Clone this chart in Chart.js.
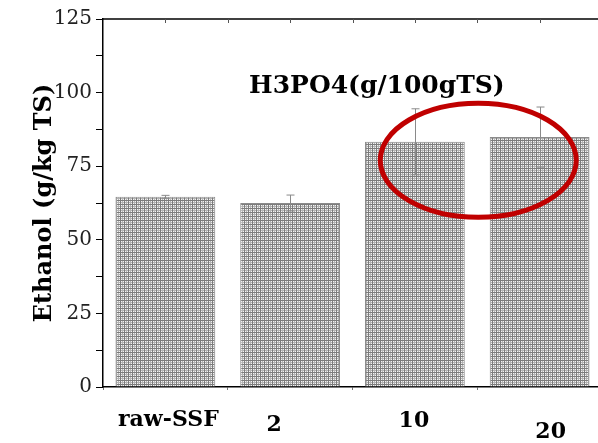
<!DOCTYPE html>
<html>
<head>
<meta charset="utf-8">
<script src="https://cdn.jsdelivr.net/npm/chart.js@4.4.1/dist/chart.umd.min.js"></script>
<style>
  html, body { margin: 0; padding: 0; background: #fff; overflow: hidden; }
  #wrap { position: relative; width: 602px; height: 443px; }
</style>
</head>
<body>
<div id="wrap"><canvas id="chart" width="602" height="443"></canvas></div>
<script>
// datos
const categories = ['raw-SSF', '2', '10', '20'];
const ethanol = [64.6, 62.5, 83.3, 84.9];
const errors = [0.5, 2.7, 11.2, 10.2];
const yTicks = [0, 25, 50, 75, 100, 125];
const chartTitle = 'H3PO4(g/100gTS)';
const yTitle = 'Ethanol (g/kg TS)';

// desplazamiento de las etiquetas del eje x (px)
const labelShift = [[3, 0], [-16, 5], [-1, 1], [11, 12]];

const serif = '"DejaVu Serif", "Liberation Serif", serif';

// patron cuadriculado para las barras
function gridPattern() {
  const c = document.createElement('canvas');
  c.width = 4; c.height = 4;
  const g = c.getContext('2d');
  g.fillStyle = '#f4f4f4';
  g.fillRect(0, 0, 4, 4);
  g.fillStyle = '#b4b4b4';
  g.fillRect(2, 0, 1, 4);
  g.fillRect(0, 2, 4, 1);
  g.fillStyle = '#7c7c7c';
  g.fillRect(0, 0, 4, 1);
  g.fillRect(0, 0, 1, 4);
  return c.getContext('2d').createPattern(c, 'repeat');
}

const extras = {
  id: 'extras',
  afterDatasetsDraw(chart) {
    const { ctx, chartArea: a, scales: { x, y } } = chart;
    ctx.save();
    // barras de error
    ctx.strokeStyle = '#8a8a8a';
    ctx.lineWidth = 1;
    ethanol.forEach((v, i) => {
      const px = Math.round(x.getPixelForValue(i)) + 0.5;
      const top = y.getPixelForValue(v + errors[i]);
      const bot = y.getPixelForValue(v - errors[i]);
      ctx.beginPath();
      ctx.moveTo(px, top); ctx.lineTo(px, bot);
      ctx.moveTo(px - 4, top); ctx.lineTo(px + 4, top);
      ctx.moveTo(px - 4, bot); ctx.lineTo(px + 4, bot);
      ctx.stroke();
    });
    // eje superior
    ctx.strokeStyle = '#000';
    ctx.lineWidth = 1.5;
    ctx.beginPath();
    ctx.moveTo(a.left, a.top); ctx.lineTo(a.right, a.top);
    ctx.stroke();
    ctx.lineWidth = 1;
    ctx.strokeStyle = '#555';
    for (let k = 1; k < categories.length * 2; k++) {
      const px = Math.round(x.getPixelForValue(k / 2 - 0.5)) + 0.5;
      ctx.beginPath();
      ctx.moveTo(px, a.top); ctx.lineTo(px, a.top + 4);
      ctx.stroke();
    }
    // titulo dentro del grafico
    ctx.fillStyle = '#000';
    ctx.font = 'bold 25px ' + serif;
    ctx.textAlign = 'center';
    ctx.textBaseline = 'middle';
    ctx.fillText(chartTitle, (x.getPixelForValue(1) + x.getPixelForValue(3)) / 2 - 38, y.getPixelForValue(100) - 6);
    // etiquetas del eje x
    ctx.font = 'bold 22px ' + serif;
    categories.forEach((c, i) => {
      const px = x.getPixelForValue(i) + labelShift[i][0];
      ctx.fillText(c, px, a.bottom + 33 + labelShift[i][1]);
    });
    // elipse roja
    ctx.strokeStyle = '#c00000';
    ctx.lineWidth = 5;
    ctx.beginPath();
    ctx.ellipse(x.getPixelForValue(2.5) + 1, y.getPixelForValue(77), 98, 57, 0, 0, Math.PI * 2);
    ctx.stroke();
    ctx.restore();
  }
};

const ctx = document.getElementById('chart').getContext('2d');
new Chart(ctx, {
  type: 'bar',
  data: {
    labels: categories,
    datasets: [{
      data: ethanol,
      backgroundColor: gridPattern(),
      borderColor: '#8c8c8c',
      borderWidth: 1,
      categoryPercentage: 1,
      barPercentage: 0.8
    }]
  },
  options: {
    responsive: false,
    animation: false,
    devicePixelRatio: 1,
    layout: { padding: { top: 19, right: 0, left: 0, bottom: 0 } },
    plugins: { legend: { display: false }, tooltip: { enabled: false } },
    scales: {
      x: {
        ticks: { display: false },
        grid: { drawOnChartArea: false, tickLength: 3, color: '#777' },
        border: { color: '#000', width: 1.5 },
        afterFit(s) { s.height = 56; }
      },
      y: {
        min: 0, max: 125,
        ticks: {
          stepSize: 12.5,
          color: '#222',
          font: { family: serif, size: 20 },
          padding: 4,
          callback: v => yTicks.includes(v) ? String(v) : ''
        },
        grid: { drawOnChartArea: false, tickLength: 7, color: '#000' },
        border: { color: '#000', width: 1.5 },
        title: {
          display: true,
          text: yTitle,
          color: '#000',
          font: { family: serif, size: 24, weight: 'bold' },
          padding: { top: 30, bottom: 0 }
        },
        afterFit(s) { s.width = 103; }
      }
    }
  },
  plugins: [extras]
});
</script>
</body>
</html>
